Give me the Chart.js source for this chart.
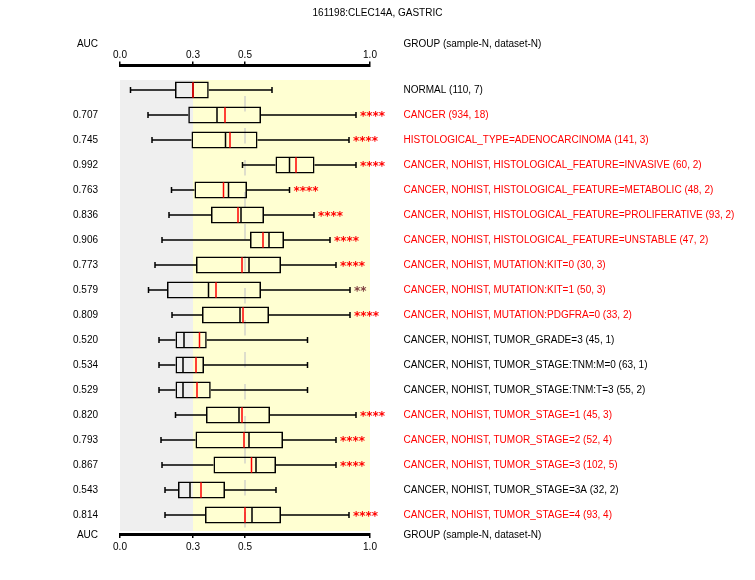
<!DOCTYPE html>
<html>
<head>
<meta charset="utf-8">
<script src="https://cdn.jsdelivr.net/npm/chart.js@4.4.1/dist/chart.umd.min.js"></script>
<style>
  html, body { margin: 0; padding: 0; background: #ffffff; }
  #wrap { width: 755px; height: 580px; position: relative; }
</style>
</head>
<body>
<div id="wrap"><canvas id="c" width="755" height="580"></canvas></div>
<script>
// ---------------- data ----------------
const chartTitle = '161198:CLEC14A, GASTRIC';
const headerLeft = 'AUC';
const headerRight = 'GROUP (sample-N, dataset-N)';

const groupLabels = [
  'NORMAL (110, 7)',
  'CANCER (934, 18)',
  'HISTOLOGICAL_TYPE=ADENOCARCINOMA (141, 3)',
  'CANCER, NOHIST, HISTOLOGICAL_FEATURE=INVASIVE (60, 2)',
  'CANCER, NOHIST, HISTOLOGICAL_FEATURE=METABOLIC (48, 2)',
  'CANCER, NOHIST, HISTOLOGICAL_FEATURE=PROLIFERATIVE (93, 2)',
  'CANCER, NOHIST, HISTOLOGICAL_FEATURE=UNSTABLE (47, 2)',
  'CANCER, NOHIST, MUTATION:KIT=0 (30, 3)',
  'CANCER, NOHIST, MUTATION:KIT=1 (50, 3)',
  'CANCER, NOHIST, MUTATION:PDGFRA=0 (33, 2)',
  'CANCER, NOHIST, TUMOR_GRADE=3 (45, 1)',
  'CANCER, NOHIST, TUMOR_STAGE:TNM:M=0 (63, 1)',
  'CANCER, NOHIST, TUMOR_STAGE:TNM:T=3 (55, 2)',
  'CANCER, NOHIST, TUMOR_STAGE=1 (45, 3)',
  'CANCER, NOHIST, TUMOR_STAGE=2 (52, 4)',
  'CANCER, NOHIST, TUMOR_STAGE=3 (102, 5)',
  'CANCER, NOHIST, TUMOR_STAGE=3A (32, 2)',
  'CANCER, NOHIST, TUMOR_STAGE=4 (93, 4)'
];
const aucValues = [null, 0.707, 0.745, 0.992, 0.763, 0.836, 0.906, 0.773, 0.579, 0.809,
                   0.520, 0.534, 0.529, 0.820, 0.793, 0.867, 0.543, 0.814];
const whiskerLow  = [0.042, 0.112, 0.128, 0.490, 0.206, 0.196, 0.168, 0.140, 0.114, 0.208,
                     0.156, 0.156, 0.156, 0.222, 0.164, 0.168, 0.180, 0.180];
const q1          = [0.220, 0.273, 0.286, 0.622, 0.298, 0.364, 0.520, 0.304, 0.188, 0.328,
                     0.222, 0.222, 0.222, 0.344, 0.302, 0.374, 0.232, 0.340];
const median      = [0.292, 0.388, 0.422, 0.678, 0.434, 0.484, 0.596, 0.516, 0.354, 0.480,
                     0.256, 0.252, 0.252, 0.476, 0.516, 0.544, 0.280, 0.528];
const redMarker   = [0.292, 0.420, 0.440, 0.704, 0.414, 0.472, 0.572, 0.488, 0.384, 0.492,
                     0.318, 0.304, 0.308, 0.488, 0.496, 0.526, 0.324, 0.500];
const q3          = [0.355, 0.564, 0.550, 0.778, 0.508, 0.576, 0.656, 0.644, 0.564, 0.596,
                     0.347, 0.336, 0.363, 0.600, 0.652, 0.624, 0.420, 0.644];
const whiskerHigh = [0.608, 0.944, 0.916, 0.944, 0.678, 0.776, 0.840, 0.864, 0.920, 0.920,
                     0.750, 0.750, 0.750, 0.944, 0.864, 0.864, 0.624, 0.916];
const stars       = ['', '****', '****', '****', '****', '****', '****', '****', '**', '****',
                     '', '', '', '****', '****', '****', '', '****'];
const tickValues = [0.0, 0.292, 0.5, 1.0];
const tickLabels = ['0.0', '0.3', '0.5', '1.0'];
const refLineValue = 0.5;

// ---------------- styles ----------------
const FONT = '"Liberation Sans", Arial, sans-serif';
const RED = '#ff0000';
const BROWN = '#7f3f3f';
const GRAY_BG = '#efefef';
const YELLOW_BG = '#ffffd2';

const decor = {
  id: 'decor',
  beforeDatasetsDraw(chart) {
    const { ctx, scales: { x, y } } = chart;
    const step = y.getPixelForValue(1) - y.getPixelForValue(0);
    const top = y.getPixelForValue(0) - 0.4 * step;
    const bottom = y.getPixelForValue(groupLabels.length - 1) + 0.64 * step;
    const x0 = x.getPixelForValue(0), x1 = x.getPixelForValue(1);
    const xt = x.getPixelForValue(median[0]);
    ctx.save();
    ctx.fillStyle = GRAY_BG;
    ctx.fillRect(x0, top, xt - x0, bottom - top);
    ctx.fillStyle = YELLOW_BG;
    ctx.fillRect(xt, top, x1 - xt, bottom - top);
    const xr = x.getPixelForValue(refLineValue);
    ctx.strokeStyle = '#c8c8c8';
    ctx.lineWidth = 1.2;
    ctx.setLineDash([15.5, 16.5]);
    ctx.beginPath();
    ctx.moveTo(xr, y.getPixelForValue(0) + 0.24 * step);
    ctx.lineTo(xr, bottom - 3);
    ctx.stroke();
    ctx.restore();
  },
  afterDatasetsDraw(chart) {
    const { ctx, scales: { x, y }, chartArea } = chart;
    const half = 7.75;
    ctx.save();
    ctx.lineWidth = 1.5;
    ctx.strokeStyle = '#000';
    groupLabels.forEach((g, i) => {
      const yc = y.getPixelForValue(i);
      const pl = x.getPixelForValue(whiskerLow[i]);
      const p1 = x.getPixelForValue(q1[i]);
      const p3 = x.getPixelForValue(q3[i]);
      const ph = x.getPixelForValue(whiskerHigh[i]);
      ctx.strokeStyle = '#000';
      ctx.beginPath();
      ctx.moveTo(pl, yc); ctx.lineTo(p1, yc);
      ctx.moveTo(p3, yc); ctx.lineTo(ph, yc);
      ctx.moveTo(pl, yc - 3); ctx.lineTo(pl, yc + 3);
      ctx.moveTo(ph, yc - 3); ctx.lineTo(ph, yc + 3);
      const pm = x.getPixelForValue(median[i]);
      ctx.moveTo(pm, yc - half); ctx.lineTo(pm, yc + half);
      ctx.stroke();
      const pr = x.getPixelForValue(redMarker[i]);
      ctx.strokeStyle = RED;
      ctx.beginPath();
      ctx.moveTo(pr, yc - half); ctx.lineTo(pr, yc + half);
      ctx.stroke();
      // stars
      if (stars[i]) {
        ctx.fillStyle = stars[i].length >= 4 ? RED : BROWN;
        ctx.font = 'bold 12px "DejaVu Sans"';
        ctx.textAlign = 'left';
        ctx.textBaseline = 'alphabetic';
        ctx.fillText(stars[i], ph + 4, yc + 5);
      }
      // AUC value
      ctx.font = '10px ' + FONT;
      ctx.textBaseline = 'middle';
      ctx.fillStyle = '#000';
      if (aucValues[i] !== null) {
        ctx.textAlign = 'right';
        ctx.fillText(aucValues[i].toFixed(3), x.getPixelForValue(0) - 22, yc);
      }
      ctx.textAlign = 'left';
      ctx.fillStyle = stars[i] ? RED : '#000';
      ctx.fillText(g, x.getPixelForValue(1) + 33.5, yc);
    });
    // headers, title
    ctx.fillStyle = '#000';
    ctx.font = '10px ' + FONT;
    ctx.textBaseline = 'middle';
    [chartArea.top - 21.5, chartArea.bottom + 1.5].forEach(hy => {
      ctx.textAlign = 'right';
      ctx.fillText(headerLeft, x.getPixelForValue(0) - 22, hy);
      ctx.textAlign = 'left';
      ctx.fillText(headerRight, x.getPixelForValue(1) + 33.5, hy);
    });
    ctx.textAlign = 'center';
    ctx.fillText(chartTitle, chart.width / 2, 13);
    ctx.restore();
  }
};

function axisOpts(position, height, pad) {
  return {
    type: 'linear',
    position: position,
    min: 0, max: 1,
    offset: false,
    afterBuildTicks: s => { s.ticks = tickValues.map(v => ({ value: v })); },
    afterFit: s => { s.height = height; },
    ticks: {
      autoSkip: false, maxRotation: 0, padding: pad, color: '#000',
      font: { family: FONT, size: 10 },
      callback: (v, idx) => tickLabels[idx]
    },
    grid: { drawOnChartArea: false, offset: false, tickLength: 4, color: '#000', lineWidth: 1.5 },
    border: { display: true, color: '#000', width: 3 }
  };
}

new Chart(document.getElementById('c'), {
  type: 'bar',
  data: {
    datasets: [{
      label: 'IQR',
      data: groupLabels.map((g, i) => ({ x: [q1[i], q3[i]], y: i })),
      backgroundColor: 'rgba(0,0,0,0)',
      borderColor: '#000',
      borderWidth: 1.5,
      borderSkipped: false,
      barThickness: 17,
      inflateAmount: 0
    }]
  },
  options: {
    indexAxis: 'y',
    responsive: false,
    animation: false,
    devicePixelRatio: 1,
    layout: { padding: { left: 120, right: 385, top: 0, bottom: 0 } },
    plugins: { legend: { display: false }, tooltip: { enabled: false }, title: { display: false } },
    scales: {
      x: axisOpts('top', 65.5, 0),
      x2: axisOpts('bottom', 46, 3),
      y: { type: 'linear', display: false, reverse: true, offset: false,
           grid: { offset: false }, min: -0.98, max: 17.76 }
    }
  },
  plugins: [decor]
});
</script>
</body>
</html>
